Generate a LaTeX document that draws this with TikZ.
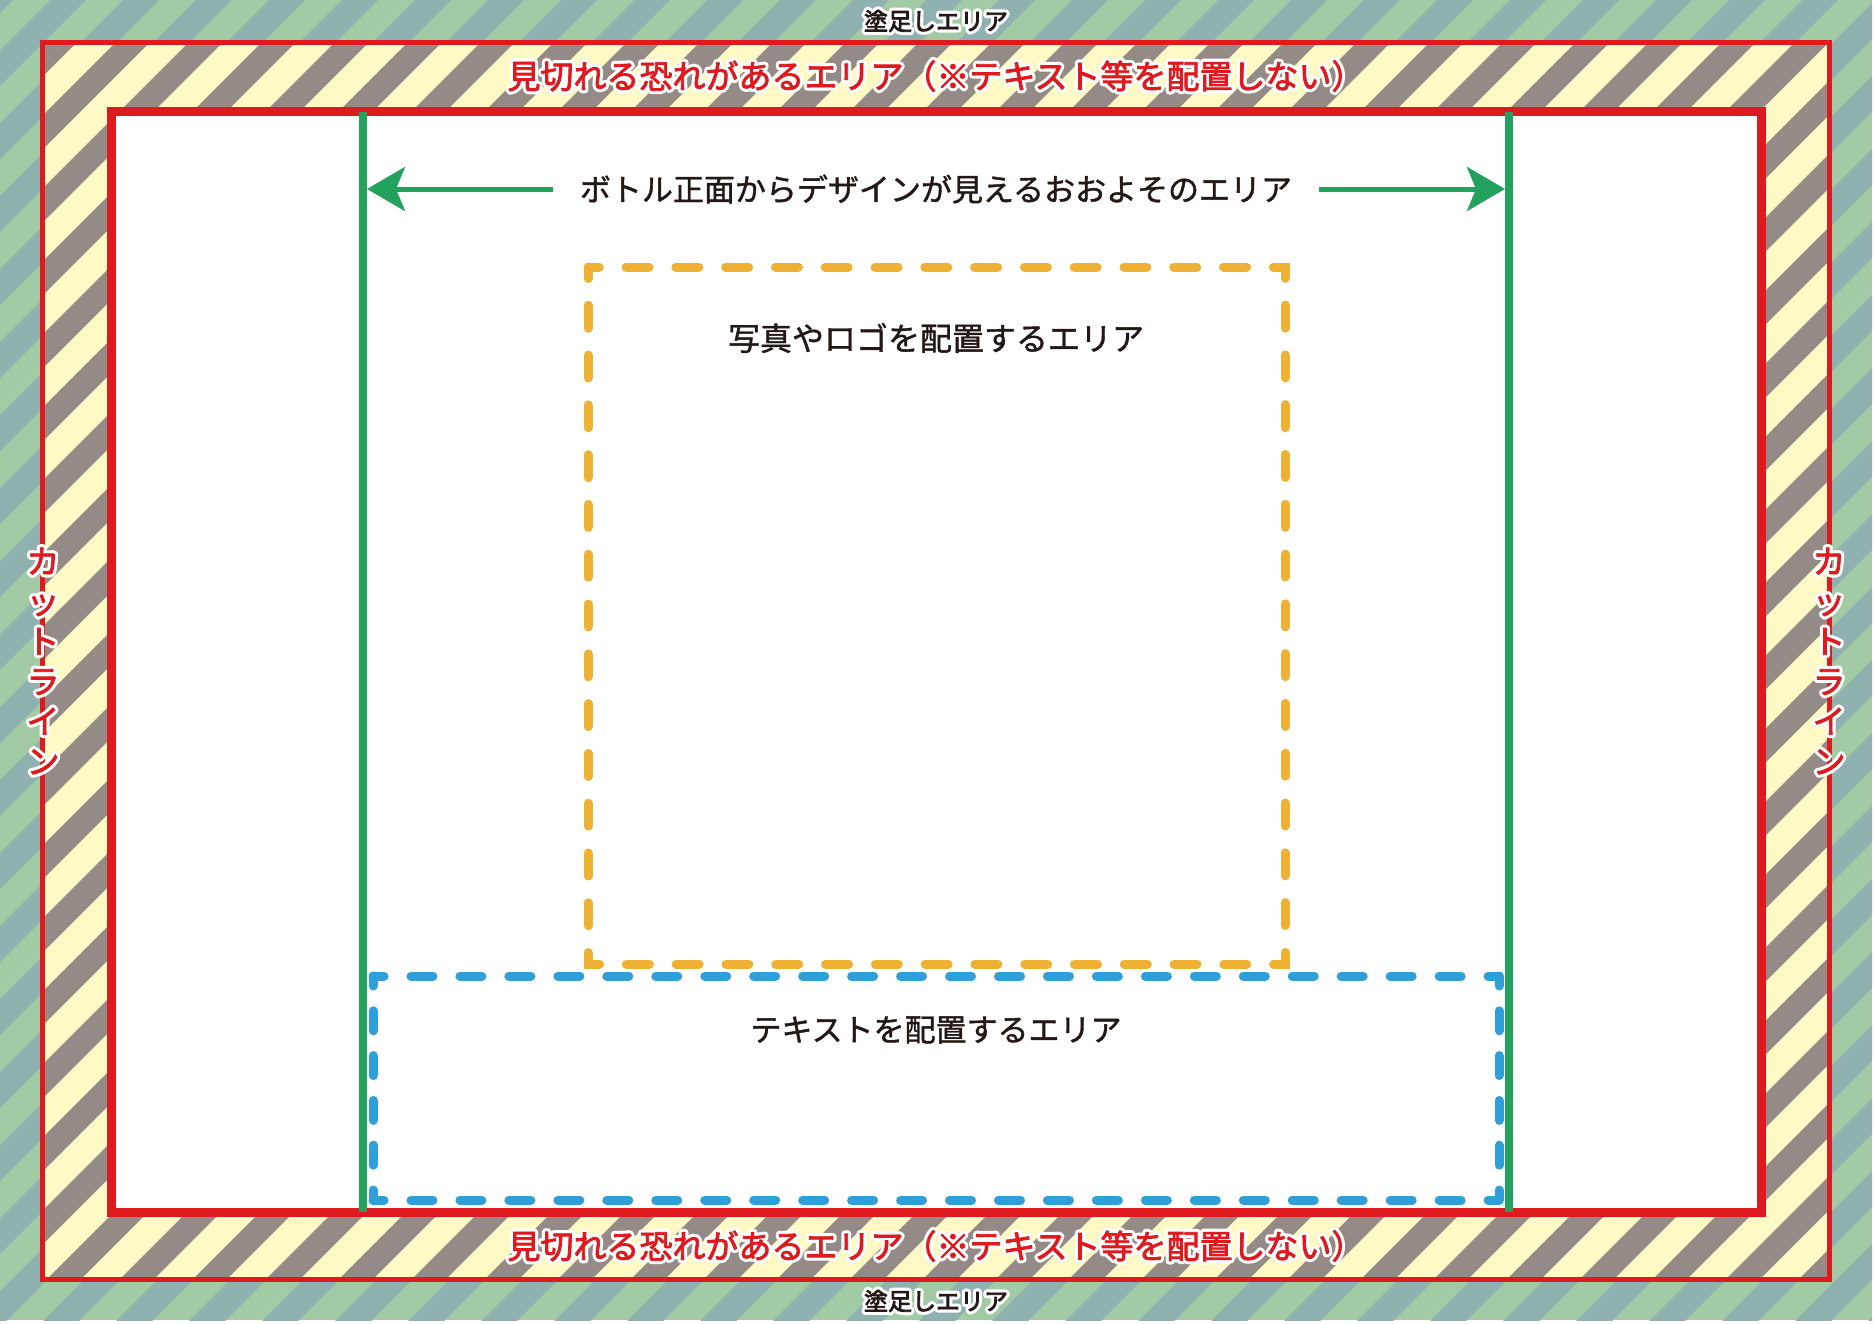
\documentclass[tikz,border=0pt]{standalone}
\usepackage{fontspec}
\setmainfont{Noto Sans CJK JP}
\usetikzlibrary{arrows.meta,calc}
\definecolor{bleedgreen}{HTML}{A2CBA5}
\definecolor{bleedteal}{HTML}{8FB2B0}
\definecolor{riskyellow}{HTML}{FFF9C6}
\definecolor{riskgray}{HTML}{958B86}
\definecolor{cutred}{HTML}{DE1A1E}
\definecolor{viewgreen}{HTML}{22A25C}
\definecolor{photoorange}{HTML}{EFB133}
\definecolor{textblue}{HTML}{2E9FD9}
\definecolor{inkblack}{HTML}{231815}
% heavier strokes for the letters (fill + stroke in the text colour)
\newcommand\inked[2]{\special{pdf:literal direct 1 j 2 Tr #1 w}#2\special{pdf:literal direct 0 Tr 0 j}}
\tikzset{
  body text/.style={text=inkblack,font=\fontsize{31pt}{38pt}\selectfont,inner sep=0pt},
  bleed text/.style={text=inkblack,font=\fontsize{24pt}{28pt}\selectfont,inner sep=0pt},
  risk text/.style={text=cutred,font=\fontsize{33pt}{38pt}\selectfont,inner sep=0pt},
  cut text/.style={text=cutred,font=\fontsize{33pt}{40pt}\selectfont,align=center,inner sep=0pt},
  viewline/.style={viewgreen,line width=8pt},
  viewarrow/.style={viewgreen,line width=5pt,-{Stealth[length=38pt,width=44pt,inset=9pt]}},
  dashbox/.style={line width=9pt,line cap=round}
}
% text with a white halo: a stroked white copy under the letters
\newcommand\halonode[4]{%
  \node[#1,text=white] at #3 {\special{pdf:literal direct 1 j 1 Tr 7 w}#4\special{pdf:literal direct 0 Tr 0 j}};
  \node[#1] (#2) at #3 {\inked{0.8}{#4}};}
\begin{document}
\begin{tikzpicture}[x=1pt,y=-1pt]
  \useasboundingbox (0,0) rectangle (1874,1323);
  \fill[white] (0,0) rectangle (1874,1323);
  % bleed area
  \begin{scope}
    \clip (0,0) rectangle (1872,1320);
    \fill[bleedgreen] (0,0) rectangle (1872,1320);
    \foreach \k in {-1,...,45}
      \fill[bleedteal] ({73*\k+50},0) -- ({73*\k+86},0) -- ({73*\k+86-1400},1400) -- ({73*\k+50-1400},1400) -- cycle;
  \end{scope}
  % area that may be cut off
  \begin{scope}
    \clip (42,42) rectangle (1829,1279);
    \fill[riskyellow] (42,42) rectangle (1829,1279);
    \foreach \k in {-1,...,45}
      \fill[riskgray] ({73*\k+12},0) -- ({73*\k+46},0) -- ({73*\k+46-1400},1400) -- ({73*\k+12-1400},1400) -- cycle;
  \end{scope}
  \fill[white] (111,111) rectangle (1761,1212);
  \draw[cutred,line width=5pt] (42,42) rectangle (1829,1279);
  \draw[cutred,line width=9pt] (111,111) rectangle (1761,1212);
  \draw[viewline] (363,112) -- (363,1212);
  \draw[viewline] (1509,112) -- (1509,1212);
  % photo and text areas
  \draw[dashbox,photoorange,dash pattern=on 23pt off 26.79pt,dash phase=11.5pt] (588,267) rectangle (1285,964);
  \draw[dashbox,textblue,dash pattern=on 22pt off 26.96pt,dash phase=11pt] (373,976) -- (1499,976) (373,1200) -- (1499,1200);
  \draw[dashbox,textblue,dash pattern=on 20pt off 24.8pt,dash phase=10pt] (373,976) -- (373,1200) (1499,976) -- (1499,1200);
  % labels
  \coordinate (tipL) at (367,189);
  \coordinate (tipR) at (1505,189);
  \node[body text,inner xsep=27pt] (viewTxt) at (936,189) {\inked{0.4}{ボトル正面からデザインが見えるおおよそのエリア}};
  \draw[viewarrow] (viewTxt.west) -- (tipL);
  \draw[viewarrow] (viewTxt.east) -- (tipR);
  \node[body text,font=\fontsize{32pt}{38pt}\selectfont] (photoTxt) at (936,338) {\inked{0.4}{写真やロゴを配置するエリア}};
  \node[body text] (textTxt) at (936,1030) {\inked{0.4}{テキストを配置するエリア}};
  \halonode{bleed text}{bleedTop}{(936,21)}{塗足しエリア}
  \halonode{bleed text}{bleedBot}{(936,1301)}{塗足しエリア}
  \halonode{risk text}{riskTop}{(936,76)}{見切れる恐れがあるエリア（※テキスト等を配置しない）}
  \halonode{risk text}{riskBot}{(936,1246)}{見切れる恐れがあるエリア（※テキスト等を配置しない）}
  \halonode{cut text}{cutL}{(43,661)}{カ\\ッ\\ト\\ラ\\イ\\ン}
  \halonode{cut text}{cutR}{(1829,661)}{カ\\ッ\\ト\\ラ\\イ\\ン}
\end{tikzpicture}
\end{document}
